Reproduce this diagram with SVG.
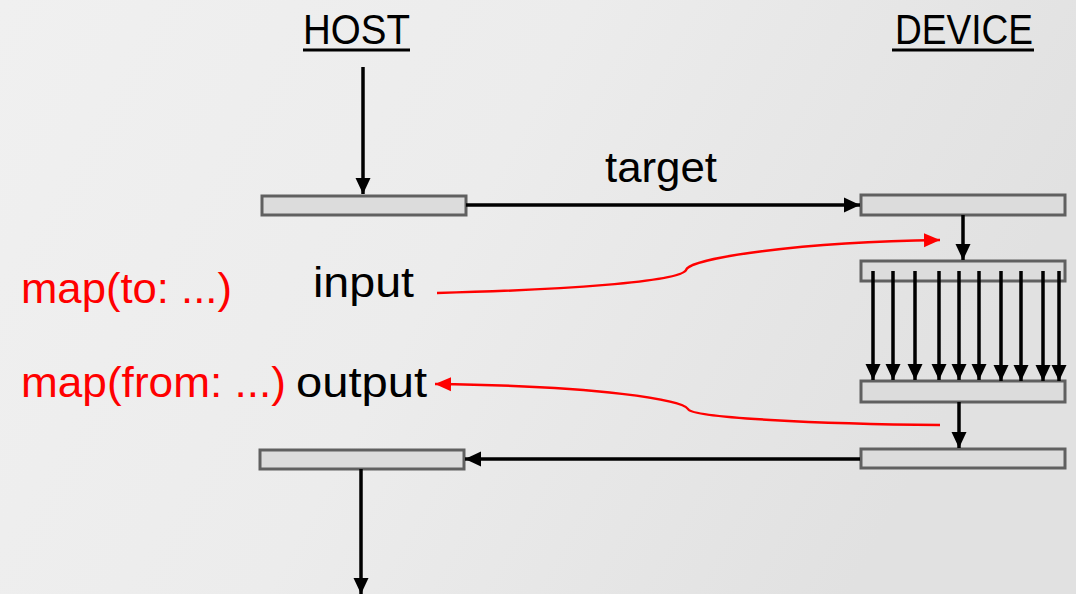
<svg xmlns="http://www.w3.org/2000/svg" width="1076" height="594" viewBox="0 0 1076 594">
<defs>
<linearGradient id="bg" x1="0" y1="0" x2="1" y2="0.3">
<stop offset="0" stop-color="#f0f0f0"/>
<stop offset="0.5" stop-color="#ececec"/>
<stop offset="1" stop-color="#e1e1e1"/>
</linearGradient>
<marker id="ab" markerUnits="userSpaceOnUse" markerWidth="18" markerHeight="18" viewBox="0 0 18 18" refX="16" refY="9" orient="auto">
<path d="M0,1.5 L16,9 L0,16.5 Z" fill="#000"/>
</marker>
<marker id="ar" markerUnits="userSpaceOnUse" markerWidth="18" markerHeight="18" viewBox="0 0 18 18" refX="16" refY="9" orient="auto">
<path d="M0,2 L16,9 L0,16 Z" fill="#ff0000"/>
</marker>
</defs>
<style>
.bar{fill:#dcdcdc;stroke:#606060;stroke-width:3}
.ln{stroke:#000;stroke-width:3.5;fill:none;marker-end:url(#ab)}
.rl{stroke:#ff0000;stroke-width:2.5;fill:none;marker-end:url(#ar)}
.t{font-family:"Liberation Sans","Open Sans",sans-serif;font-size:42px;fill:#000}
.r{fill:#ff0000}
.ul{stroke:#000;stroke-width:3}
</style>
<rect x="0" y="0" width="1076" height="594" fill="url(#bg)"/>

<g id="host-title">
<text class="t" x="303" y="44" textLength="107" lengthAdjust="spacingAndGlyphs">HOST</text>
<line class="ul" x1="303" y1="50" x2="410" y2="50"/>
</g>
<g id="device-title">
<text class="t" x="895" y="44" textLength="138" lengthAdjust="spacingAndGlyphs">DEVICE</text>
<line class="ul" x1="892" y1="50" x2="1034" y2="50"/>
</g>

<g id="host-bar-1"><rect class="bar" x="262" y="196" width="204" height="19"/></g>
<g id="host-bar-2"><rect class="bar" x="260" y="450" width="204" height="19"/></g>
<g id="dev-bar-1"><rect class="bar" x="861" y="195" width="204" height="20"/></g>
<g id="dev-bar-2"><rect class="bar" x="861" y="261" width="204" height="20"/></g>
<g id="dev-bar-3"><rect class="bar" x="861" y="381" width="204" height="21"/></g>
<g id="dev-bar-4"><rect class="bar" x="861" y="449" width="204" height="19"/></g>

<g id="labels">
<text class="t" x="605" y="182" textLength="112" lengthAdjust="spacingAndGlyphs">target</text>
<text class="t" x="313" y="297" textLength="101" lengthAdjust="spacingAndGlyphs">input</text>
<text class="t" x="296" y="397" textLength="131" lengthAdjust="spacingAndGlyphs">output</text>
<text class="t r" x="21" y="303" textLength="211" lengthAdjust="spacingAndGlyphs">map(to: ...)</text>
<text class="t r" x="21" y="397" textLength="265" lengthAdjust="spacingAndGlyphs">map(from: ...)</text>
</g>

<g id="connectors">
<line class="ln" x1="363" y1="67" x2="363" y2="194"/>
<line class="ln" x1="466" y1="205" x2="860" y2="205"/>
<line class="ln" x1="963" y1="215" x2="963" y2="260"/>
<line class="ln" x1="873" y1="271" x2="873" y2="380"/>
<line class="ln" x1="893" y1="271" x2="893" y2="380"/>
<line class="ln" x1="915" y1="271" x2="915" y2="380"/>
<line class="ln" x1="939" y1="271" x2="939" y2="380"/>
<line class="ln" x1="959" y1="271" x2="959" y2="380"/>
<line class="ln" x1="979" y1="271" x2="979" y2="380"/>
<line class="ln" x1="1001" y1="271" x2="1001" y2="381"/>
<line class="ln" x1="1021" y1="271" x2="1021" y2="381"/>
<line class="ln" x1="1043" y1="271" x2="1043" y2="381"/>
<line class="ln" x1="1059" y1="271" x2="1059" y2="381"/>
<line class="ln" x1="959" y1="402" x2="959" y2="448"/>
<line class="ln" x1="860" y1="459" x2="465" y2="459"/>
<line class="ln" x1="361" y1="469" x2="361" y2="594"/>
<path class="rl" d="M437,293 C560,290 680,282 686,270 C690,258 800,242 940,240"/>
<path class="rl" d="M940,425 C820,424 692,418 688,409 C684,400 600,386 435,384"/>
</g>
</svg>
